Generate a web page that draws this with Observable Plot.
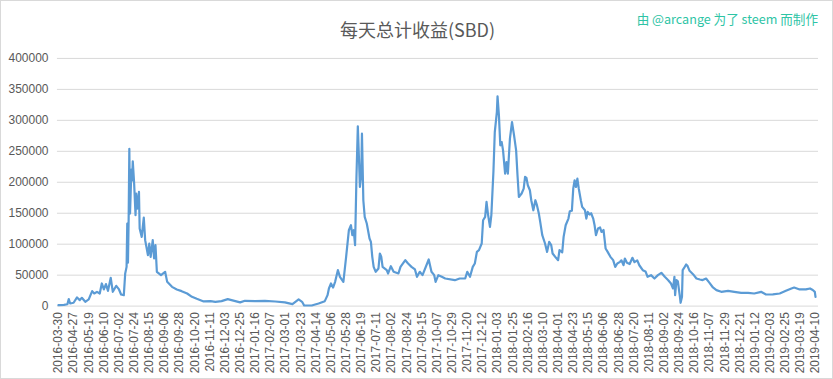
<!DOCTYPE html>
<html><head><meta charset="utf-8">
<script src="https://cdn.jsdelivr.net/npm/d3@7"></script>
<script src="https://cdn.jsdelivr.net/npm/@observablehq/plot@0.6"></script>
<style>
body{margin:0;background:#fff;}
#wrap{position:relative;width:833px;height:379px;box-sizing:border-box;border:1px solid #d9d9d9;overflow:hidden;background:#fff;}
#title{position:absolute;left:0;width:833px;top:15px;text-align:center;font:18px "Noto Sans CJK SC";color:#595959;white-space:nowrap;}
#credit{position:absolute;right:14px;top:8px;font:12.6px "Noto Sans CJK SC";color:#2ec4a5;white-space:nowrap;}
#chart{position:absolute;left:-1px;top:-1px;}
</style></head>
<body>
<div id="wrap">
  <div id="chart"></div>
  <div id="title">每天总计收益(SBD)</div>
  <div id="credit">由 @arcange 为了 steem 而制作</div>
</div>
<script>
const tickLabels = ["2016-03-30","2016-04-27","2016-05-19","2016-06-10","2016-07-02","2016-07-24","2016-08-15","2016-09-06","2016-09-28","2016-10-20","2016-11-11","2016-12-03","2016-12-25","2017-01-16","2017-02-07","2017-03-01","2017-03-23","2017-04-14","2017-05-06","2017-05-28","2017-06-19","2017-07-11","2017-08-02","2017-08-24","2017-09-15","2017-10-07","2017-10-29","2017-11-20","2017-12-12","2018-01-03","2018-01-25","2018-02-16","2018-03-10","2018-04-01","2018-04-23","2018-05-15","2018-06-06","2018-06-28","2018-07-20","2018-08-11","2018-09-02","2018-09-24","2018-10-16","2018-11-07","2018-11-29","2018-12-21","2019-01-12","2019-02-03","2019-02-25","2019-03-19","2019-04-10"];
const yTicks = [0,50000,100000,150000,200000,250000,300000,350000,400000];

// day = category index on the axis (tick labels sit every 22 categories)
const days = [0,8,13,15,17,22,27,31,34,39,44,49,52,56,60,63,66,69,72,76,79,84,88,91,95,97,99,100,101,102,103,104,106,107,108,110,112,113,115,117,118,121,124,126,130,132,134,137,139,141,143,149,155,158,165,172,179,187,194,201,211,221,228,237,246,257,264,271,286,300,315,329,340,349,354,357,368,378,387,391,393,396,399,402,406,409,414,418,422,425,427,429,431,433,435,437,438,440,441,443,445,448,452,454,456,458,461,465,467,469,471,477,479,483,487,494,497,504,508,513,518,521,525,529,538,542,546,548,552,557,562,576,583,591,594,598,602,605,608,611,615,617,620,622,624,627,629,632,634,637,638,640,642,644,646,649,651,653,656,659,662,665,667,669,673,676,678,680,682,685,687,690,693,695,698,700,703,707,710,713,716,718,723,726,728,732,734,737,741,743,746,748,750,752,754,756,759,761,765,767,769,772,774,777,779,781,784,787,789,792,795,798,802,806,809,812,816,818,821,823,826,830,834,837,841,844,849,853,856,861,866,871,876,881,886,890,893,895,896,898,900,903,904,906,907,910,912,914,917,922,927,932,936,941,946,951,956,963,973,982,992,1002,1011,1021,1028,1038,1048,1057,1065,1069,1077,1086,1092,1096,1099,1100];
const sbd = [1500,2000,3000,11300,4300,5400,14000,9700,13400,7000,10800,24200,20400,23100,20400,36600,26900,35500,24700,45700,23100,32800,26900,18800,17700,52700,63400,133400,70000,140000,254000,149500,220500,203000,233900,197900,146800,181800,157600,184400,125300,111800,143000,106500,82300,101100,79600,106500,76900,98400,55400,50000,55400,39200,31100,26900,24200,20400,15000,11800,7600,8000,7000,8000,11300,8000,6000,8600,8000,8600,7500,6000,3200,10800,7000,1100,1000,4300,8000,17700,28500,36600,30000,39200,58100,47300,39200,79600,122600,130600,114500,122600,98400,208600,290300,227400,192400,214000,278500,171000,144000,133400,109200,103700,79600,63400,55400,60800,85000,80000,63400,58100,52700,64500,55400,52700,63400,74200,68900,63400,59200,47300,55400,50000,75300,55400,50000,39200,50000,47300,44600,41900,44600,44600,55400,47300,63400,68900,87600,90300,101100,138700,144000,168200,149500,128000,146800,216600,281100,313400,338700,308100,259700,265000,251600,214000,232700,214000,270500,297300,275800,251600,211300,176300,181800,189800,208600,207000,195200,187100,171000,154800,171000,164000,149500,136000,114500,101100,87600,103700,98400,85000,78000,74200,90300,87000,111800,130600,141400,153200,154000,189800,203200,192400,206000,190000,171000,160200,154800,141400,152100,148000,150000,141400,130600,114500,125300,127000,119900,123000,93100,87600,79600,74200,63400,68900,71500,74000,66100,76900,70000,68000,78000,71000,74000,66000,58100,56000,47300,50000,44600,50000,53800,47300,41900,36600,28500,47300,17700,41900,40000,15000,5400,15000,58100,63400,67200,65000,57000,51600,44600,43000,42000,44600,37600,30100,25800,23100,24700,23100,21500,21500,20400,23100,18800,19000,20400,24700,28500,30100,26900,27000,28500,26000,23100,15000];

const points = days.map((d, i) => ({day: d, sbd: sbd[i]}));
const xTickPos = tickLabels.map((_, i) => i * 22);

const chart = Plot.plot({
  width: 833, height: 379,
  marginLeft: 57, marginRight: 14, marginTop: 58, marginBottom: 73,
  x: {domain: [-1.45, 1104.35], label: null},
  y: {domain: [0, 400000], label: null},
  style: {fontFamily: "'Liberation Sans', sans-serif", fontSize: "12px", color: "#595959", background: "transparent"},
  marks: [
    Plot.ruleY(yTicks, {stroke: "#d9d9d9", strokeOpacity: 1}),
    Plot.axisY(yTicks, {tickSize: 0, tickPadding: 9, tickFormat: d => String(d), label: null}),
    Plot.axisX(xTickPos, {tickSize: 0, tickPadding: 6, tickRotate: -90, tickFormat: d => tickLabels[Math.round(d / 22)], label: null}),
    Plot.line(points, {x: "day", y: "sbd", stroke: "#5b9bd5", strokeWidth: 2.2, strokeLinejoin: "round"})
  ]
});
document.getElementById("chart").appendChild(chart);
</script>
</body></html>
